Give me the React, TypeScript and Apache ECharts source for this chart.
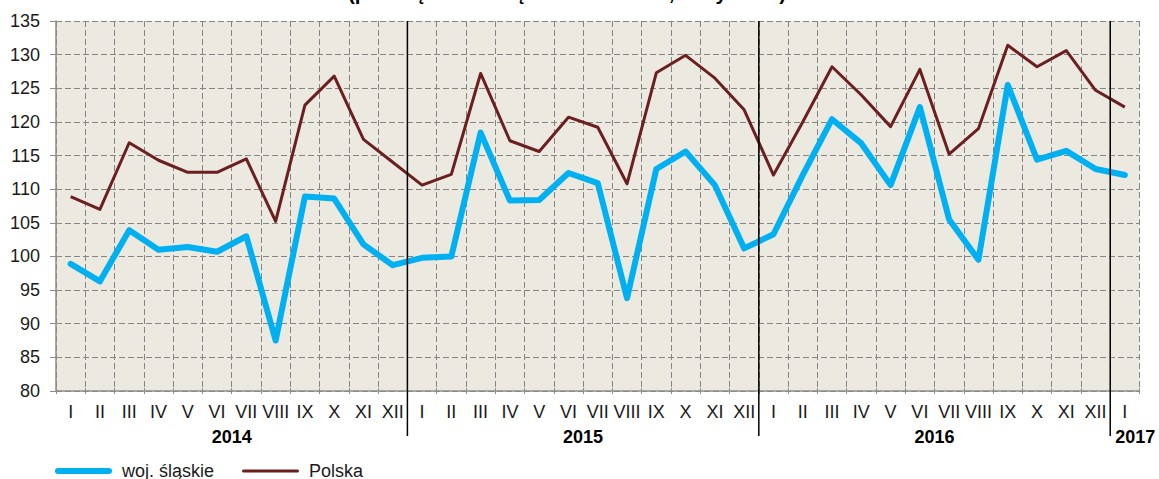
import React, { useEffect, useRef } from "react";
import * as echarts from "echarts";

const monthNames = ["I", "II", "III", "IV", "V", "VI", "VII", "VIII", "IX", "X", "XI", "XII"];
const categories = [...monthNames, ...monthNames, ...monthNames, "I"];
const years = ["2014", "2015", "2016", "2017"];
const yearStart = [0, 12, 24, 36];
const yearEnd = [11, 23, 35, 36];

const seriesNames = ["woj. śląskie", "Polska"];
const slaskie = [
  98.9, 96.3, 103.9, 101.0, 101.4, 100.7, 103.0, 87.5, 108.9, 108.6, 101.8, 98.7,
  99.8, 100.0, 118.4, 108.3, 108.4, 112.4, 110.9, 93.8, 113.0, 115.6, 110.6, 101.2,
  103.3, 112.1, 120.4, 116.8, 110.6, 122.2, 105.5, 99.5, 125.5, 114.4, 115.7, 113.0,
  112.1,
];
const polska = [
  108.9, 107.0, 116.9, 114.3, 112.5, 112.5, 114.5, 105.2, 122.5, 126.8, 117.4, 114.0,
  110.6, 112.2, 127.2, 117.2, 115.6, 120.7, 119.2, 110.8, 127.3, 129.9, 126.5, 121.8,
  112.1, 120.0, 128.2, 124.0, 119.3, 127.8, 115.2, 119.0, 131.4, 128.2, 130.6, 124.7,
  122.2,
];
const yMin = 80;
const yMax = 135;
const yStep = 5;
const titleText = "(przeciętna miesięczna 2010=100, ceny stałe)";

const FONT = "'Liberation Sans', Arial, sans-serif";
const BLUE = "#00B0F0";
const BROWN = "#6B1F1F";
const GRID = "#858585";
const AXIS = "#8c8c8c";
const TXT = "#1a1a1a";

const blueIcon = "path://M3,0H54A3,3 0 0 1 54,6H3A3,3 0 0 1 3,0Z";
const brownIcon = "path://M1.5,0H55.5A1.5,1.5 0 0 1 55.5,3H1.5A1.5,1.5 0 0 1 1.5,0Z";

export default function App() {
  const ref = useRef<HTMLDivElement>(null);
  useEffect(() => {
    document.body.style.margin = "0";
    const chart = echarts.init(ref.current!, undefined, { renderer: "svg" });
    const option: any = {
      animation: false,
      grid: {
        left: 56,
        right: 19.5,
        top: 21,
        bottom: 88,
        show: true,
        backgroundColor: "#ECE9E1",
        borderWidth: 0,
      },
      legend: {
        left: 50,
        top: 457,
        itemWidth: 57,
        itemHeight: 16,
        itemGap: 28,
        textStyle: { fontSize: 18, color: TXT, fontFamily: FONT, padding: [0, 0, 0, 5] },
        data: [
          { name: seriesNames[0], icon: blueIcon },
          { name: seriesNames[1], icon: brownIcon },
        ],
      },
      xAxis: [
        {
          type: "category",
          data: categories,
          boundaryGap: true,
          axisLine: { show: true, lineStyle: { color: AXIS, width: 1.5 } },
          axisTick: { show: true, interval: 0, length: 3, lineStyle: { color: AXIS } },
          axisLabel: {
            interval: 0,
            fontSize: 18,
            color: TXT,
            fontFamily: FONT,
            margin: 12,
          },
          splitLine: {
            show: true,
            interval: 0,
            lineStyle: { color: GRID, type: [6, 3], width: 1 },
          },
        },
        {
          type: "category",
          data: categories,
          position: "bottom",
          boundaryGap: true,
          axisLine: { show: false },
          axisTick: { show: true, inside: true, interval: 0, length: 3, lineStyle: { color: AXIS } },
          axisLabel: { show: false },
          splitLine: { show: false },
        },
      ],
      yAxis: [
        {
          type: "value",
          min: yMin,
          max: yMax,
          interval: yStep,
          axisLine: { show: true, lineStyle: { color: AXIS, width: 1.5 } },
          axisTick: { show: true, length: 6, lineStyle: { color: AXIS } },
          axisLabel: { fontSize: 18, color: TXT, fontFamily: FONT, margin: 16 },
          splitLine: { show: true, lineStyle: { color: GRID, type: [6, 3], width: 1 } },
        },
        {
          type: "value",
          min: yMin,
          max: yMax,
          interval: yStep,
          position: "left",
          axisLine: { show: false },
          axisTick: { show: true, inside: true, length: 4, lineStyle: { color: AXIS } },
          axisLabel: { show: false },
          splitLine: { show: false },
        },
      ],
      series: [
        {
          name: seriesNames[0],
          type: "line",
          data: slaskie,
          symbol: "none",
          lineStyle: { width: 6, color: BLUE, cap: "round", join: "round" },
          itemStyle: { color: BLUE },
          z: 3,
        },
        {
          name: seriesNames[1],
          type: "line",
          data: polska,
          symbol: "none",
          lineStyle: { width: 3, color: BROWN, join: "round" },
          itemStyle: { color: BROWN },
          z: 4,
        },
      ],
    };
    chart.setOption(option);

    const px = (i: number) => chart.convertToPixel({ xAxisIndex: 0 }, i) as number;
    const py = (v: number) => chart.convertToPixel({ yAxisIndex: 0 }, v) as number;
    const top = py(yMax);
    const bottom = py(yMin);
    const graphics: any[] = [];
    years.forEach((yr, k) => {
      const s = yearStart[k];
      const e = yearEnd[k];
      if (k > 0) {
        const bx = (px(s - 1) + px(s)) / 2;
        graphics.push({
          type: "line",
          shape: { x1: bx, y1: top, x2: bx, y2: bottom + 45 },
          style: { stroke: "#000", lineWidth: 1.5 },
          z: 10,
        });
      }
      const last = k === years.length - 1;
      const cx = last ? (px(s - 1) + px(s)) / 2 + 5 : (px(s) + px(e)) / 2;
      graphics.push({
        type: "text",
        x: cx,
        y: bottom + 45.5,
        style: {
          text: yr,
          fontSize: 18,
          fontWeight: "bold",
          fontFamily: FONT,
          fill: "#000",
          align: last ? "left" : "center",
          verticalAlign: "middle",
        },
        z: 10,
      });
    });
    graphics.push({
      type: "text",
      x: 567,
      y: -8,
      style: {
        text: titleText,
        fontSize: 20.5,
        fontWeight: "bold",
        fontFamily: FONT,
        fill: "#000",
        align: "center",
        verticalAlign: "middle",
      },
    });
    chart.setOption({ graphic: graphics });

    return () => chart.dispose();
  }, []);
  return <div ref={ref} style={{ width: 1159, height: 479 }} />;
}
